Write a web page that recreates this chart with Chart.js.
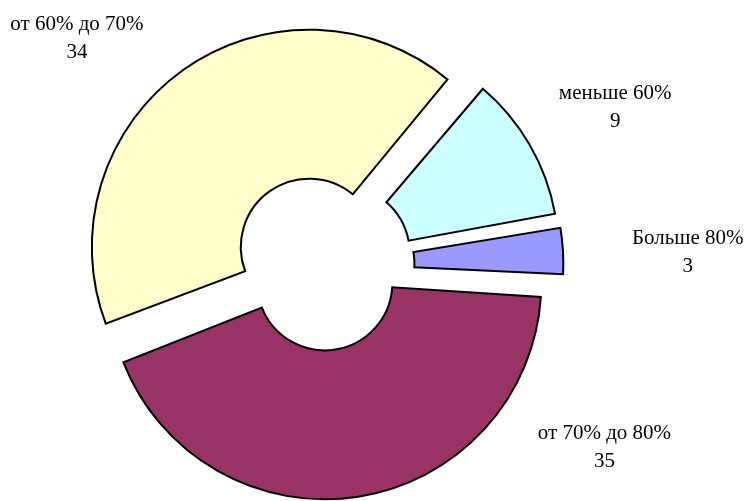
<!DOCTYPE html>
<html>
<head>
<meta charset="utf-8">
<script src="https://cdn.jsdelivr.net/npm/chart.js@4.4.1/dist/chart.umd.min.js"></script>
<style>
  html, body { margin: 0; padding: 0; background: #fff; }
  #wrap { width: 744px; height: 501px; }
</style>
</head>
<body>
<div id="wrap"><canvas id="doughnut" width="744" height="501"></canvas></div>
<script>
// данные (по часовой стрелке, начиная с 40°)
const categories = ['меньше 60%', 'Больше 80%', 'от 70% до 80%', 'от 60% до 70%'];
const values = [9, 3, 35, 34];
const colors = ['#CCFFFF', '#9999FF', '#993366', '#FFFFCC'];

// раздвижка секторов (offset в Chart.js сдвигает на offset/4)
const explode = [100, 80, 72, 88];
// положение подписей: угол от 12 часов (град) и расстояние от центра (px)
const labelAngle = [61.7, 88, 122.8, 312.8];
const labelDist = [333, 366, 336, 334];

const labelPlugin = {
  id: 'sliceLabels',
  afterDatasetsDraw(chart) {
    const ctx = chart.ctx;
    const meta = chart.getDatasetMeta(0);
    ctx.save();
    ctx.fillStyle = '#000';
    ctx.font = "21px 'Liberation Serif', 'Times New Roman', serif";
    ctx.textAlign = 'center';
    ctx.textBaseline = 'middle';
    meta.data.forEach((arc, i) => {
      const a = labelAngle[i] * Math.PI / 180;
      const x = arc.x + Math.sin(a) * labelDist[i];
      const y = arc.y - Math.cos(a) * labelDist[i];
      ctx.fillText(categories[i], x, y - 14);
      ctx.fillText(String(values[i]), x, y + 14);
    });
    ctx.restore();
  }
};

new Chart(document.getElementById('doughnut').getContext('2d'), {
  type: 'doughnut',
  data: {
    labels: categories,
    datasets: [{
      data: values,
      backgroundColor: colors,
      borderColor: '#000',
      borderWidth: 2,
      borderJoinStyle: 'miter',
      offset: explode
    }]
  },
  options: {
    responsive: false,
    animation: false,
    rotation: 40,
    radius: 206,
    cutout: '27.7%',
    layout: { padding: { left: 0, right: 100, top: 29, bottom: 0 } },
    plugins: {
      legend: { display: false },
      tooltip: { enabled: false }
    },
    events: []
  },
  plugins: [labelPlugin]
});
</script>
</body>
</html>
